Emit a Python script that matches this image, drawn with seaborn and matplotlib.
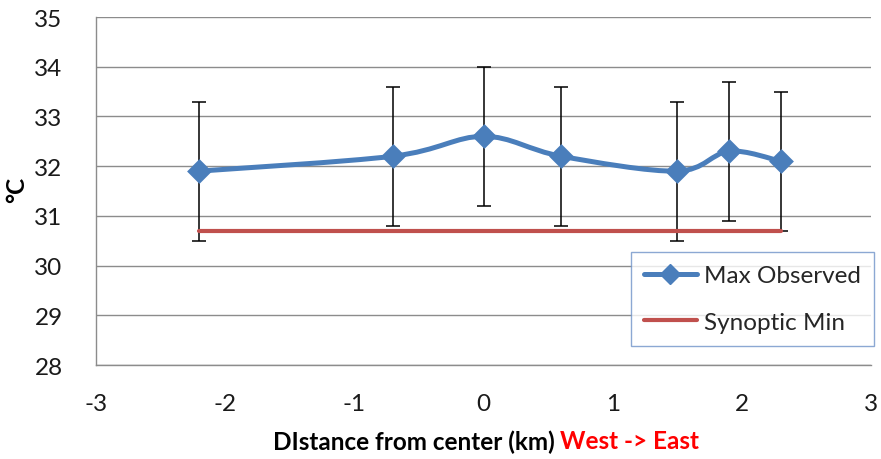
import numpy as np
import matplotlib
matplotlib.use("Agg")
import matplotlib.pyplot as plt
from matplotlib.path import Path
from matplotlib.patches import PathPatch
from matplotlib.lines import Line2D
import seaborn as sns
import pandas as pd

# ---- data ----
distance_km = [-2.2, -0.7, 0.0, 0.6, 1.5, 1.9, 2.3]
max_observed = [31.9, 32.2, 32.6, 32.2, 31.9, 32.3, 32.1]
error_plus_minus = [1.4, 1.4, 1.4, 1.4, 1.4, 1.4, 1.4]
synoptic_x = [-2.2, 2.3]
synoptic_min = [30.7, 30.7]
x_ticks = [-3, -2, -1, 0, 1, 2, 3]
y_ticks = [28, 29, 30, 31, 32, 33, 34, 35]

BLUE = "#4A7EBB"
RED = "#C0504D"
GRID = "#8C8C8C"

sns.set_theme(style="white")
plt.rcParams["font.family"] = ["Lato", "DejaVu Sans"]

fig = plt.figure(figsize=(8.81, 4.60), dpi=100)
AX_L, AX_R, AX_T, AX_B = 96, 871, 18, 366
ax = fig.add_axes([AX_L / 881, (460 - AX_B) / 460, (AX_R - AX_L) / 881, (AX_B - AX_T) / 460])

df = pd.DataFrame({"x": distance_km, "y": max_observed, "err": error_plus_minus})

# error bars
ax.errorbar(df["x"], df["y"], yerr=df["err"], fmt="none", ecolor="black",
            elinewidth=1.1, capsize=5, capthick=1.1, zorder=3)

# synoptic min line
sns.lineplot(x=synoptic_x, y=synoptic_min, ax=ax, color=RED, linewidth=3.0,
             zorder=4, legend=False)

# smoothed line (Catmull-Rom style bezier through the data points)
pts = np.column_stack([df["x"].to_numpy(), df["y"].to_numpy()])
n = len(pts)
verts = [pts[0]]
codes = [Path.MOVETO]
for i in range(n - 1):
    p0 = pts[i - 1] if i > 0 else pts[i]
    p1 = pts[i]
    p2 = pts[i + 1]
    p3 = pts[i + 2] if i + 2 < n else pts[i + 1]
    c1 = p1 + (p2 - p0) / 6.0
    c2 = p2 - (p3 - p1) / 6.0
    verts += [c1, c2, p2]
    codes += [Path.CURVE4] * 3
patch = PathPatch(Path(verts, codes), facecolor="none", edgecolor=BLUE,
                  linewidth=3.6, zorder=5, capstyle="round", joinstyle="round")
ax.add_patch(patch)

sns.scatterplot(data=df, x="x", y="y", ax=ax, marker="D", s=160, color=BLUE,
                edgecolor=BLUE, linewidth=0, zorder=6, legend=False)

ax.set_xlim(-3, 3)
ax.set_ylim(28, 35)
ax.set_xticks(x_ticks)
ax.set_yticks(y_ticks)
ax.set_xticklabels([str(t) for t in x_ticks])
ax.set_yticklabels([str(t) for t in y_ticks])
ax.tick_params(axis="both", length=0, labelsize=17.5, colors="#1a1a1a")
ax.tick_params(axis="x", pad=20)
ax.tick_params(axis="y", pad=24)

ax.grid(axis="y", color=GRID, linewidth=1.0)
ax.set_axisbelow(True)
for side in ["top", "right"]:
    ax.spines[side].set_visible(False)
for side in ["left", "bottom"]:
    ax.spines[side].set_color(GRID)
    ax.spines[side].set_linewidth(1.0)

ax.set_xlabel("")
ax.set_ylabel("")
fig.text(17 / 881, 1 - 190 / 460, "°C", rotation=90, ha="center", va="center",
         fontsize=17.5, fontweight="bold", color="black")

# two-colour x label, centred under the axes
fig.canvas.draw()
r = fig.canvas.get_renderer()
ty = 1 - 442 / 460
t1 = fig.text(0, ty, "DIstance from center (km) ", ha="left", va="center",
              fontsize=17.5, fontweight="bold", color="black")
t2 = fig.text(0, ty, "West -> East", ha="left", va="center",
              fontsize=17.5, fontweight="bold", color="#FF0000")
w1 = t1.get_window_extent(r).width
w2 = t2.get_window_extent(r).width
center_px = 486
start = center_px - (w1 + w2) / 2
t1.set_x(start / 881)
t2.set_x((start + w1) / 881)

handles = [
    Line2D([], [], color=BLUE, linewidth=3.6, marker="D", markersize=10),
    Line2D([], [], color=RED, linewidth=3.0),
]
leg = ax.legend(handles, ["Max Observed", "Synoptic Min"], loc="upper left",
                bbox_to_anchor=((631 - AX_L) / (AX_R - AX_L), (AX_B - 253) / (AX_B - AX_T)),
                frameon=True, fancybox=False, fontsize=17.5, handlelength=2.15,
                labelspacing=1.05, borderpad=0.55, handletextpad=0.3,
                borderaxespad=0)
leg.get_frame().set_edgecolor("#6F93C8")
leg.get_frame().set_linewidth(1.0)
leg.set_zorder(10)

fig.savefig("out.png", dpi=100)
